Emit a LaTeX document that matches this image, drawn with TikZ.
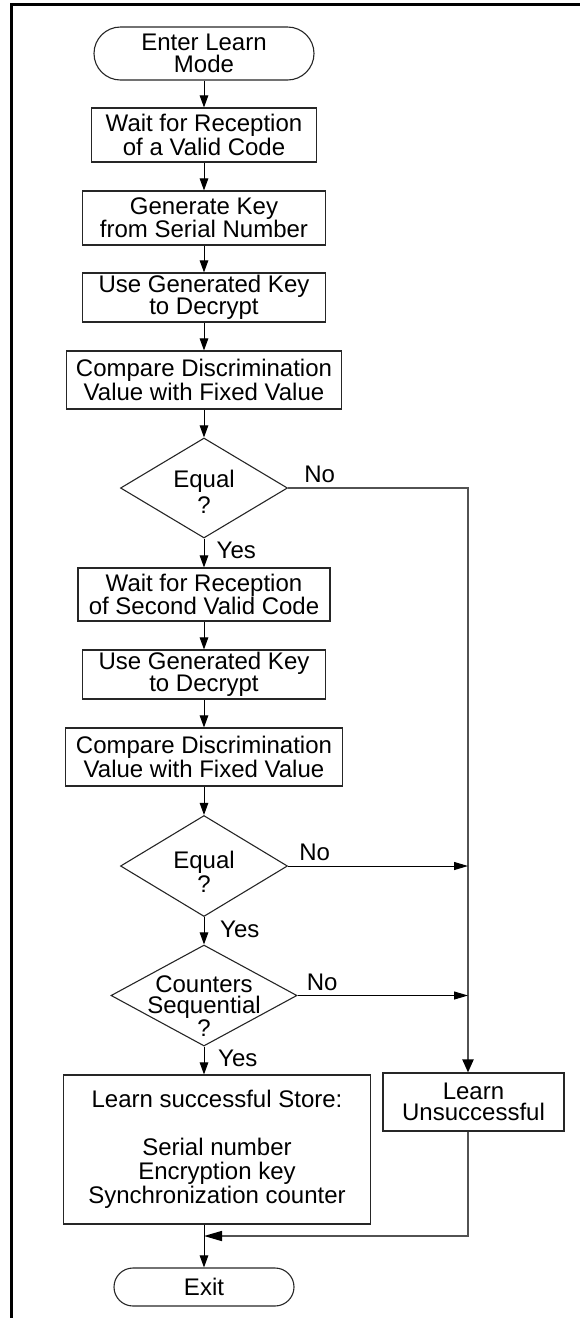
\documentclass[tikz,border=0pt]{standalone}
\usepackage{fontspec}
\setmainfont{Liberation Sans}
\usetikzlibrary{shapes.geometric,arrows.meta}
\begin{document}
\begin{tikzpicture}[x=1pt,y=-1pt,
  every node/.style={font=\fontsize{24}{21.5}\selectfont, align=center, inner sep=0pt, text=black},
  box/.style={draw=black!85, line width=1.1pt, rectangle},
  term/.style={draw=black!85, line width=1.1pt, rectangle, rounded corners=#1},
  dia/.style={draw=black!85, line width=1.1pt, diamond, inner sep=0pt},
  lbl/.style={anchor=base west},
  arr/.style={draw=black, line width=1pt, -{Triangle[length=12pt,width=8.5pt]}},
  harr/.style={draw=black, line width=1pt, -{Triangle[length=14pt,width=8pt]}},
  rline/.style={draw=black!68, line width=2pt},
]
\useasboundingbox (0,0) rectangle (580,1318);
% frame
\draw[line width=2.8pt] (11.5,1318) -- (11.5,4.7) -- (580,4.7);

% main column
\node[term=26.5pt, minimum width=220pt, minimum height=53pt] (start) at (204,53.5) {Enter Learn\\Mode};
\node[box, minimum width=225pt, minimum height=54pt] (b1) at (204,135) {Wait for Reception\\of a Valid Code};
\node[box, minimum width=243pt, minimum height=54pt] (b2) at (204,218) {Generate Key\\from Serial Number};
\node[box, minimum width=243pt, minimum height=49pt] (b3) at (204,297.5) {Use Generated Key\\to Decrypt};
\node[box, minimum width=275pt, minimum height=58pt] (b4) at (204,380) {Compare Discrimination\\Value with Fixed Value};
\node[dia, minimum width=167pt, minimum height=100pt] (d1) at (204,488) {};
\node[font=\fontsize{24}{26}\selectfont] (d1t) at (204,492) {Equal\\?};
\node[box, minimum width=252pt, minimum height=53pt] (b5) at (204,594.5) {Wait for Reception\\of Second Valid Code};
\node[box, minimum width=243pt, minimum height=49pt] (b6) at (204,674.5) {Use Generated Key\\to Decrypt};
\node[box, minimum width=277pt, minimum height=58pt] (b7) at (204,757) {Compare Discrimination\\Value with Fixed Value};
\node[dia, minimum width=167pt, minimum height=101pt] (d2) at (204,866) {};
\node[font=\fontsize{24}{24}\selectfont] (d2t) at (204,872) {Equal\\?};
\node[dia, minimum width=186pt, minimum height=101pt] (d3) at (204,995.5) {};
\node (d3t) at (204,1006) {Counters\\Sequential\\?};
\node[box, font=\fontsize{24}{24}\selectfont, minimum width=307.5pt, minimum height=149pt] (store) at (217,1149.5)
  {Learn successful Store:\\[24pt]Serial number\\Encryption key\\Synchronization counter};
\node[box, minimum width=181pt, minimum height=58pt] (unsucc) at (473.5,1102) {Learn\\Unsuccessful};
\node[term=19pt, minimum width=180pt, minimum height=38pt] (exit) at (204,1287) {Exit};

% labels
\node[lbl] (no1) at ([xshift=16pt,yshift=6pt]d1.east) {No};
\node[lbl] (no2) at ([xshift=11pt,yshift=6pt]d2.east) {No};
\node[lbl] (no3) at ([xshift=9pt,yshift=5.5pt]d3.east) {No};
\node[lbl] (yes1) at ([xshift=12.5pt,yshift=-20pt]d1.south) {Yes};
\node[lbl] (yes2) at ([xshift=16pt,yshift=-20pt]d2.south) {Yes};
\node[lbl] (yes3) at ([xshift=14pt,yshift=-20pt]d3.south) {Yes};

% main arrows
\draw[arr] (start.south) -- (b1.north);
\draw[arr] (b1.south) -- (b2.north);
\draw[arr] (b2.south) -- (b3.north);
\draw[arr] (b3.south) -- (b4.north);
\draw[arr] (b4.south) -- (d1.north);
\draw[arr] (d1.south) -- (b5.north);
\draw[arr] (b5.south) -- (b6.north);
\draw[arr] (b6.south) -- (b7.north);
\draw[arr] (b7.south) -- (d2.north);
\draw[arr] (d2.south) -- (d3.north);
\draw[arr] (d3.south) -- (d3.south |- store.north);
\draw[arr] (exit.north |- store.south) -- (exit.north);

% right side
\coordinate (c1) at (468,488);
\coordinate (c2) at (468,1236);
\draw[rline, -{Triangle[length=13pt,width=11pt,fill=black,color=black]}] (d1.east) -- (c1) -- (c1 |- unsucc.north);
\draw[harr] (d2.east) -- (d2.east -| c1);
\draw[harr] (d3.east) -- (d3.east -| c1);
\draw[rline, line width=1.6pt, -{Triangle[length=18pt,width=10pt,fill=black,color=black]}] (c2 |- unsucc.south) -- (c2) -- (c2 -| exit.north);
\end{tikzpicture}
\end{document}
